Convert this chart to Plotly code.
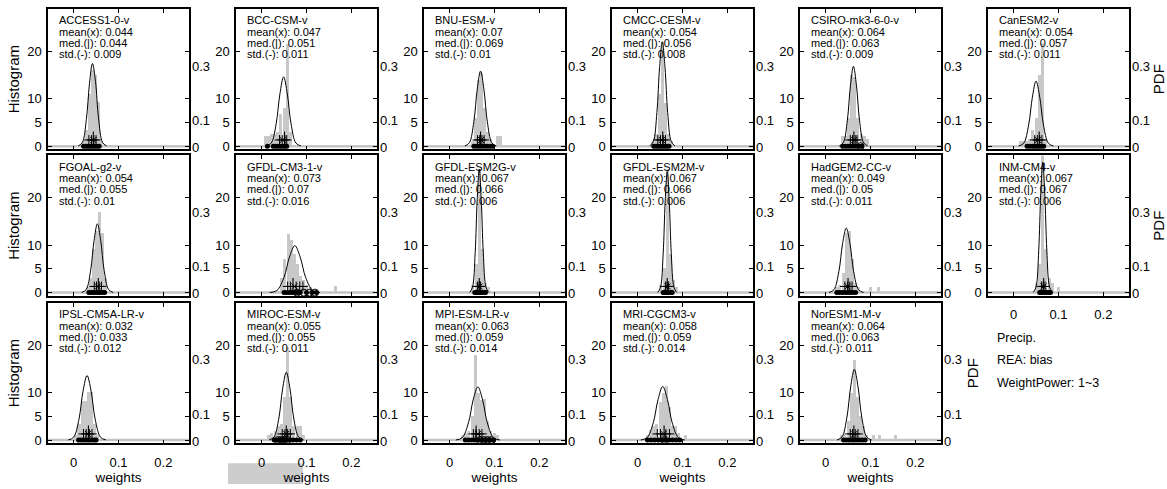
import plotly.graph_objects as go

# ---------------- data ----------------
names = ["ACCESS1-0-v", "BCC-CSM-v", "BNU-ESM-v", "CMCC-CESM-v", "CSIRO-mk3-6-0-v", "CanESM2-v",
         "FGOAL-g2-v", "GFDL-CM3-1-v", "GFDL-ESM2G-v", "GFDL-ESM2M-v", "HadGEM2-CC-v", "INM-CM4-v",
         "IPSL-CM5A-LR-v", "MIROC-ESM-v", "MPI-ESM-LR-v", "MRI-CGCM3-v", "NorESM1-M-v"]
means = [0.044, 0.047, 0.07, 0.054, 0.064, 0.054, 0.054, 0.073, 0.067, 0.067, 0.049, 0.067,
         0.032, 0.055, 0.063, 0.058, 0.064]
meds = [0.044, 0.051, 0.069, 0.056, 0.063, 0.057, 0.055, 0.07, 0.066, 0.066, 0.05, 0.067,
        0.033, 0.055, 0.059, 0.059, 0.063]
stds = [0.009, 0.011, 0.01, 0.008, 0.009, 0.011, 0.01, 0.016, 0.006, 0.006, 0.011, 0.006,
        0.012, 0.011, 0.014, 0.014, 0.011]

# histogram bars (bin centres, counts)
bar_x = [
    [0.021, 0.028, 0.035, 0.042, 0.049, 0.056, 0.063],
    [0.008, 0.015, 0.022, 0.029, 0.036, 0.043, 0.050, 0.057, 0.064],
    [0.050, 0.057, 0.064, 0.071, 0.078, 0.085, 0.092, 0.106, 0.113],
    [0.034, 0.041, 0.048, 0.055, 0.062, 0.069, 0.076],
    [0.037, 0.044, 0.051, 0.058, 0.065, 0.072, 0.079, 0.086, 0.093],
    [0.015, 0.022, 0.029, 0.036, 0.043, 0.050, 0.057, 0.064, 0.071],
    [0.030, 0.037, 0.044, 0.051, 0.058, 0.065, 0.072],
    [0.045, 0.052, 0.059, 0.066, 0.073, 0.080, 0.087, 0.094, 0.101, 0.108, 0.165],
    [0.052, 0.059, 0.066, 0.073, 0.080, 0.087],
    [0.052, 0.059, 0.066, 0.073, 0.080, 0.087],
    [0.025, 0.032, 0.039, 0.046, 0.053, 0.060, 0.067, 0.074, 0.099, 0.117],
    [0.051, 0.058, 0.065, 0.072, 0.079, 0.086, 0.100],
    [0.005, 0.012, 0.019, 0.026, 0.033, 0.040, 0.047, 0.054],
    [0.016, 0.023, 0.030, 0.037, 0.044, 0.051, 0.058, 0.065, 0.072, 0.079, 0.086, 0.093],
    [0.029, 0.036, 0.043, 0.050, 0.057, 0.064, 0.071, 0.078, 0.085, 0.092, 0.099, 0.106],
    [0.022, 0.029, 0.036, 0.043, 0.050, 0.057, 0.064, 0.071, 0.078, 0.085, 0.092, 0.106],
    [0.036, 0.043, 0.050, 0.057, 0.064, 0.071, 0.078, 0.085, 0.092, 0.106, 0.120, 0.155],
]
bar_h = [
    [1.0, 3.5, 11, 16, 15, 9.3, 1.2],
    [2.2, 2.2, 2.5, 2.5, 3, 6.8, 8, 21.5, 3],
    [1, 6, 14, 15.5, 8, 3, 1.5, 2.2, 2.2],
    [1, 2.5, 11, 22, 9, 2.5, 1],
    [2.2, 2.2, 6, 15, 14.5, 6, 2.5, 2.2, 1.5],
    [1, 1, 1.2, 1.5, 3.5, 6, 15, 21.8, 1.5],
    [1, 3, 9, 13, 17, 12.5, 3],
    [3, 7, 12.2, 11, 8, 6, 3.5, 2.5, 1.5, 1.2, 1.3],
    [1.5, 6, 26, 9, 2, 1],
    [1.5, 5, 26, 8, 2.5, 1.2],
    [1, 1.5, 4, 12.5, 13, 7, 2, 1, 1.2, 1.2],
    [2, 6, 29, 9, 3, 2, 1.2],
    [1, 3.4, 8.3, 8.3, 10.2, 10.2, 3.4, 1],
    [1, 1.5, 2, 3, 3.5, 9, 19.6, 9, 3, 3, 3, 1],
    [1, 1.5, 2, 5, 18, 10, 8.5, 8.6, 4, 2, 1.5, 1.2],
    [1, 2.2, 3, 3.5, 8, 10, 11.5, 7, 3, 3, 1.5, 1.2],
    [1, 1.5, 4, 10, 17, 9, 5, 3, 1, 1, 1, 1.2],
]

# PDF curve samples (x, height in histogram units)
curve_x = [
    [0.0105, 0.0195, 0.0285, 0.0353, 0.042, 0.0488, 0.0555, 0.0645, 0.0735],
    [0.0105, 0.0215, 0.0325, 0.0408, 0.049, 0.0573, 0.0655, 0.0765, 0.0875],
    [0.034, 0.044, 0.054, 0.0615, 0.069, 0.0765, 0.084, 0.094, 0.104],
    [0.027, 0.035, 0.043, 0.049, 0.055, 0.061, 0.067, 0.075, 0.083],
    [0.0305, 0.0395, 0.0485, 0.0553, 0.062, 0.0688, 0.0755, 0.0845, 0.0935],
    [0.0115, 0.0225, 0.0335, 0.0418, 0.050, 0.0583, 0.0665, 0.0775, 0.0885],
    [0.018, 0.028, 0.038, 0.0455, 0.053, 0.0605, 0.068, 0.078, 0.088],
    [0.018, 0.034, 0.050, 0.062, 0.074, 0.086, 0.098, 0.114, 0.130],
    [0.045, 0.051, 0.057, 0.0615, 0.066, 0.0705, 0.075, 0.081, 0.087],
    [0.045, 0.051, 0.057, 0.0615, 0.066, 0.0705, 0.075, 0.081, 0.087],
    [0.0075, 0.0185, 0.0295, 0.0378, 0.046, 0.0543, 0.0625, 0.0735, 0.0845],
    [0.044, 0.050, 0.056, 0.0605, 0.065, 0.0695, 0.074, 0.080, 0.086],
    [-0.012, 0.0, 0.012, 0.021, 0.030, 0.039, 0.048, 0.060, 0.072],
    [0.0165, 0.0275, 0.0385, 0.0468, 0.055, 0.0633, 0.0715, 0.0825, 0.0935],
    [0.014, 0.028, 0.042, 0.0525, 0.063, 0.0735, 0.084, 0.098, 0.112],
    [0.007, 0.021, 0.035, 0.0455, 0.056, 0.0665, 0.077, 0.091, 0.105],
    [0.0255, 0.0365, 0.0475, 0.0558, 0.064, 0.0723, 0.0805, 0.0915, 0.1025],
]
curve_y = [
    [0.04, 0.77, 5.66, 13.1, 17.4, 13.6, 5.9, 0.77, 0.04],
    [0.03, 0.64, 4.75, 11.0, 14.6, 11.0, 4.75, 0.64, 0.03],
    [0.03, 0.70, 5.14, 11.9, 15.8, 11.9, 5.14, 0.70, 0.03],
    [0.05, 0.95, 7.1, 16.6, 22.0, 16.6, 7.1, 0.95, 0.05],
    [0.04, 0.74, 5.46, 12.7, 16.8, 12.7, 5.46, 0.74, 0.04],
    [0.03, 0.60, 4.45, 10.3, 13.7, 10.3, 4.45, 0.60, 0.03],
    [0.03, 0.64, 4.71, 10.9, 14.5, 10.9, 4.71, 0.64, 0.03],
    [0.02, 0.44, 3.22, 7.47, 9.9, 7.47, 3.22, 0.44, 0.02],
    [0.06, 1.14, 8.45, 19.6, 26.0, 19.6, 8.45, 1.14, 0.06],
    [0.06, 1.12, 8.29, 19.3, 25.5, 19.3, 8.29, 1.12, 0.06],
    [0.03, 0.60, 4.42, 10.3, 13.6, 10.3, 4.42, 0.60, 0.03],
    [0.06, 1.21, 8.94, 20.8, 27.5, 20.8, 8.94, 1.21, 0.06],
    [0.03, 0.60, 4.42, 10.3, 13.6, 10.3, 4.42, 0.60, 0.03],
    [0.03, 0.63, 4.65, 10.8, 14.3, 10.8, 4.65, 0.63, 0.03],
    [0.02, 0.49, 3.64, 8.46, 11.2, 8.46, 3.64, 0.49, 0.02],
    [0.02, 0.50, 3.67, 8.53, 11.3, 8.53, 3.67, 0.50, 0.02],
    [0.03, 0.66, 4.84, 11.2, 14.9, 11.2, 4.84, 0.66, 0.03],
]

# member markers
plus_x = [
    [0.034, 0.040, 0.045, 0.050], [0.040, 0.046, 0.052, 0.056], [0.062, 0.067, 0.072, 0.077],
    [0.045, 0.051, 0.057, 0.062], [0.055, 0.060, 0.066, 0.070], [0.047, 0.053, 0.058, 0.063],
    [0.046, 0.051, 0.057, 0.062], [0.058, 0.064, 0.077, 0.085, 0.092], [0.062, 0.066, 0.069],
    [0.062, 0.066, 0.069], [0.043, 0.049, 0.054, 0.059], [0.062, 0.066, 0.070],
    [0.022, 0.028, 0.035, 0.041], [0.046, 0.052, 0.058, 0.064], [0.053, 0.059, 0.066, 0.072],
    [0.044, 0.051, 0.063, 0.071], [0.055, 0.060, 0.066, 0.072],
]
dot_x = [
    [0.022, 0.027, 0.032, 0.037, 0.042, 0.047, 0.052, 0.057],
    [0.013, 0.026, 0.031, 0.036, 0.041, 0.046, 0.051, 0.056],
    [0.054, 0.060, 0.066, 0.072, 0.078, 0.084, 0.090, 0.096],
    [0.036, 0.041, 0.046, 0.051, 0.056, 0.061, 0.066, 0.070],
    [0.038, 0.044, 0.050, 0.056, 0.062, 0.068, 0.074, 0.080],
    [0.030, 0.036, 0.042, 0.047, 0.052, 0.057, 0.062, 0.067],
    [0.034, 0.039, 0.044, 0.049, 0.054, 0.059, 0.064, 0.069],
    [0.050, 0.056, 0.062, 0.068, 0.074, 0.080, 0.086, 0.100, 0.112, 0.122],
    [0.056, 0.060, 0.064, 0.068, 0.072, 0.076, 0.080],
    [0.057, 0.061, 0.065, 0.069, 0.073, 0.077],
    [0.025, 0.031, 0.037, 0.043, 0.049, 0.055, 0.061, 0.067],
    [0.058, 0.062, 0.066, 0.070, 0.074, 0.078, 0.082],
    [0.011, 0.016, 0.021, 0.026, 0.031, 0.036, 0.041, 0.046, 0.050],
    [0.028, 0.035, 0.042, 0.049, 0.056, 0.063, 0.070, 0.078, 0.086],
    [0.035, 0.042, 0.049, 0.056, 0.063, 0.070, 0.077, 0.084, 0.091, 0.098],
    [0.022, 0.030, 0.038, 0.046, 0.054, 0.062, 0.070, 0.078, 0.086, 0.094],
    [0.040, 0.046, 0.052, 0.058, 0.064, 0.070, 0.076, 0.082, 0.088],
]
circ_x = [[], [], [], [], [0.078], [], [], [0.079, 0.094, 0.107, 0.119], [], [], [], [],
          [], [0.036, 0.043, 0.050, 0.057], [0.068, 0.076, 0.084, 0.092], [0.060], []]

x_ticks = [0, 0.1, 0.2]
hist_ticks = [0, 5, 10, 20]
pdf_ticks = [0, 0.1, 0.3]
info_lines = ["Precip.", "REA: bias", "WeightPower: 1~3"]

# ---------------- layout geometry ----------------
W, H = 1167, 489
col_left = [48, 236, 424, 612, 800, 988]
row_top = [9, 157, 306]
pw, ph = 141, 142
FONT = "Liberation Sans, Arial, sans-serif"

fig = go.Figure()
layout = dict(width=W, height=H, margin=dict(l=0, r=0, t=0, b=0),
              paper_bgcolor="white", plot_bgcolor="white", showlegend=False,
              font=dict(family=FONT, color="black"), bargap=0)
annotations = []
shapes = []

n_panels = len(names)
for i in range(n_panels):
    r, c = divmod(i, 6)
    n = i + 1
    xs = "" if n == 1 else str(n)
    yr = str(n_panels + 1 + i)  # right axis index
    x0 = col_left[c] / W
    x1 = (col_left[c] + pw) / W
    y1 = 1 - row_top[r] / H
    y0 = 1 - (row_top[r] + ph) / H
    show_xlab = (r == 2) or (i == 11)
    layout["xaxis" + xs] = dict(
        domain=[x0, x1], range=[-0.057, 0.257], anchor="y" + xs,
        tickvals=x_ticks, ticktext=["0", "0.1", "0.2"], ticks="inside", ticklen=4,
        tickcolor="black", showline=True, linecolor="black", linewidth=1.5,
        mirror="ticks", showgrid=False, zeroline=False, showticklabels=show_xlab,
        tickfont=dict(size=13, family=FONT), ticklabelstandoff=6,
        title=dict(text="weights" if r == 2 else "", font=dict(size=13.5), standoff=0),
    )
    layout["yaxis" + xs] = dict(
        domain=[y0, y1], range=[-0.7, 28.9], anchor="x" + xs,
        tickvals=hist_ticks, ticks="inside", ticklen=4, tickcolor="black",
        showline=True, linecolor="black", linewidth=1.5, mirror="ticks",
        showgrid=False, zeroline=False, tickfont=dict(size=13, family=FONT),
        ticklabelstandoff=2,
        title=dict(text="Histogram" if c == 0 else "", font=dict(size=15), standoff=4),
    )
    layout["yaxis" + yr] = dict(
        overlaying="y" + xs, anchor="x" + xs, side="right", range=[-0.009, 0.511],
        tickvals=pdf_ticks, ticktext=["0", "0.1", "0.3"], ticks="", showline=False,
        showgrid=False, zeroline=False, tickfont=dict(size=13, family=FONT),
        ticklabelstandoff=2,
        title=dict(text="PDF" if i in (5, 11, 16) else "", font=dict(size=15), standoff=6),
    )
    # zero baseline (grey)
    shapes.append(dict(type="line", xref="x" + xs + " domain", yref="y" + xs,
                       x0=0, x1=1, y0=0, y1=0, line=dict(color="#c4c4c4", width=2.5),
                       layer="below"))
    fig.add_trace(go.Bar(x=bar_x[i], y=bar_h[i], width=0.0068, marker_color="#c8c8c8",
                         marker_line_width=0, xaxis="x" + xs, yaxis="y" + xs,
                         hoverinfo="skip"))
    # invisible trace so the right-hand PDF axis is drawn
    fig.add_trace(go.Scatter(x=[means[i]], y=[0], mode="markers",
                             marker=dict(opacity=0, size=1), hoverinfo="skip",
                             xaxis="x" + xs, yaxis="y" + yr))
    fig.add_trace(go.Scatter(x=curve_x[i], y=curve_y[i], mode="lines",
                             line=dict(color="black", width=1, shape="spline", smoothing=1.0),
                             xaxis="x" + xs, yaxis="y" + xs))
    fig.add_trace(go.Scatter(x=dot_x[i], y=[0] * len(dot_x[i]), mode="markers",
                             marker=dict(symbol="circle", size=5, color="black"),
                             xaxis="x" + xs, yaxis="y" + xs))
    if circ_x[i]:
        fig.add_trace(go.Scatter(x=circ_x[i], y=[0] * len(circ_x[i]), mode="markers",
                                 marker=dict(symbol="circle-open", size=7, color="black",
                                             line=dict(width=1)),
                                 xaxis="x" + xs, yaxis="y" + xs))
    fig.add_trace(go.Scatter(x=plus_x[i], y=[1.3] * len(plus_x[i]), mode="markers",
                             marker=dict(symbol="cross-thin-open", size=7, color="black",
                                         line=dict(width=1, color="black")),
                             xaxis="x" + xs, yaxis="y" + xs))
    fig.add_trace(go.Scatter(x=[meds[i]], y=[1.3], mode="markers",
                             marker=dict(symbol="line-ns-open", size=12, color="black",
                                         line=dict(width=1.1, color="black")),
                             xaxis="x" + xs, yaxis="y" + xs))
    fig.add_trace(go.Scatter(x=[means[i]], y=[1.3], mode="markers",
                             marker=dict(symbol="x-thin-open", size=6, color="black",
                                         line=dict(width=1, color="black")),
                             xaxis="x" + xs, yaxis="y" + xs))
    # panel text
    lines = [names[i], f"mean(x): {means[i]:g}", f"med.(|): {meds[i]:g}", f"std.(-): {stds[i]:g}"]
    offs = [11.7, 23.0, 34.2, 45.6]
    for t, o in zip(lines, offs):
        annotations.append(dict(text=t, xref="x" + xs + " domain", yref="y" + xs + " domain",
                                x=9 / pw, y=1 - o / ph, xanchor="left", yanchor="middle",
                                showarrow=False, font=dict(size=11, family=FONT)))

# info text in the empty slot
for t, yy in zip(info_lines, [341.7, 363.5, 386.5]):
    annotations.append(dict(text=t, xref="paper", yref="paper", x=995 / W, y=1 - yy / H,
                            xanchor="left", yanchor="middle", showarrow=False,
                            font=dict(size=12.5, family=FONT)))

# grey hatched patch under the second x label
shapes.append(dict(type="rect", xref="paper", yref="paper", x0=228 / W, x1=303 / W,
                   y0=0, y1=1 - 468 / H, fillcolor="#cdcdcd", line=dict(width=0),
                   layer="below"))

layout["annotations"] = annotations
layout["shapes"] = shapes
fig.update_layout(**layout)
fig.write_html("out.html", config={"displayModeBar": False},
               post_script="document.body.style.margin='0';document.body.style.overflow='hidden';")
